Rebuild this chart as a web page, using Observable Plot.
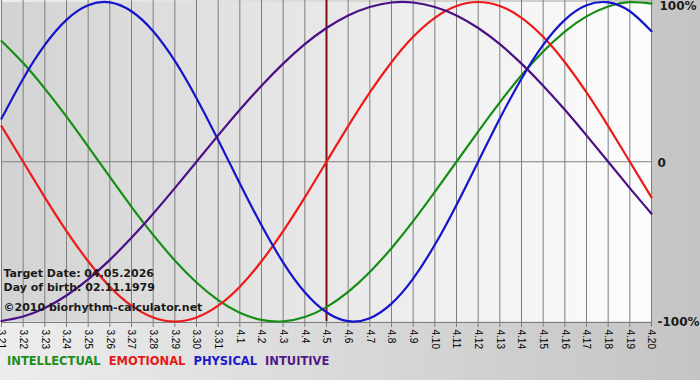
<!DOCTYPE html>
<html><head><meta charset="utf-8">
<script src="https://cdn.jsdelivr.net/npm/d3@7"></script>
<script src="https://cdn.jsdelivr.net/npm/@observablehq/plot@0.6"></script>
<style>
html,body{margin:0;padding:0;}
body{width:700px;height:380px;overflow:hidden;background:linear-gradient(to right,#ededed,#c4c4c4);font-family:"DejaVu Sans",Verdana,sans-serif;}
#chart svg{display:block;}
#legend{height:30px;box-sizing:border-box;padding-top:4px;padding-left:7px;font-weight:bold;font-size:11.5px;white-space:nowrap;}
#legend span{margin-right:8px;}
</style></head><body>
<div id="chart"></div>
<div id="legend"></div>
<script>
// day labels (month.day)
const dayLabels = ["3.21","3.22","3.23","3.24","3.25","3.26","3.27","3.28","3.29","3.30","3.31",
  "4.1","4.2","4.3","4.4","4.5","4.6","4.7","4.8","4.9","4.10","4.11","4.12","4.13","4.14","4.15",
  "4.16","4.17","4.18","4.19","4.20"];
const targetDay = "4.5";
// series values in percent, one per day
const intellectual = [75.6,61.8,45.8,28.2,9.5,-9.5,-28.2,-45.8,-61.8,-75.6,-86.6,-94.5,-99.0,-99.9,-97.2,-91.0,-81.5,-69.0,-54.1,-37.2,-18.9,0,18.9,37.2,54.1,69.0,81.5,91.0,97.2,99.9,99.0];
const emotional = [22.3,0,-22.3,-43.4,-62.3,-78.2,-90.1,-97.5,-100,-97.5,-90.1,-78.2,-62.3,-43.4,-22.3,0,22.3,43.4,62.3,78.2,90.1,97.5,100,97.5,90.1,78.2,62.3,43.4,22.3,0,-22.3];
const physical = [27.0,52.0,73.1,88.8,97.9,99.8,94.2,81.7,63.1,39.8,13.6,-13.6,-39.8,-63.1,-81.7,-94.2,-99.8,-97.9,-88.8,-73.1,-52.0,-27.0,0,27.0,52.0,73.1,88.8,97.9,99.8,94.2,81.7];
const intuitive = [-99.7,-96.9,-91.6,-83.7,-73.6,-61.4,-47.6,-32.5,-16.5,0,16.5,32.5,47.6,61.4,73.6,83.7,91.6,96.9,99.7,99.7,96.9,91.6,83.7,73.6,61.4,47.6,32.5,16.5,0,-16.5,-32.5];
const seriesNames = ["INTELLECTUAL","EMOTIONAL","PHYSICAL","INTUITIVE"];
const yTicks = [100, 0, -100];
const yTickLabels = ["100%", "0", "-100%"];
const infoLines = ["Target Date: 04.05.2026", "Day of birth: 02.11.1979"];
const copyright = "©2010 biorhythm-calculator.net";

const lineColors = {INTELLECTUAL:"#168e16", EMOTIONAL:"#ee1a1a", PHYSICAL:"#1414cc", INTUITIVE:"#4b0f86"};
const legendColors = {INTELLECTUAL:"#1c8c1c", EMOTIONAL:"#e41b1b", PHYSICAL:"#1a1ac8", INTUITIVE:"#56178a"};

const valuesBy = {INTELLECTUAL: intellectual, EMOTIONAL: emotional, PHYSICAL: physical, INTUITIVE: intuitive};
const rows = [];
for (const name of seriesNames) valuesBy[name].forEach((v, i) => rows.push({series: name, i, v}));
const dayIdx = d3.range(dayLabels.length);
const targetIdx = dayLabels.indexOf(targetDay);

const grid = "#7e7e7e";
const chart = Plot.plot({
  width: 700, height: 350,
  marginLeft: 1, marginRight: 49, marginTop: 1.5, marginBottom: 29,
  style: {background: "transparent", fontFamily: "'DejaVu Sans', Verdana, sans-serif", overflow: "visible"},
  x: {domain: [0, dayLabels.length - 1], axis: null},
  y: {domain: [-100, 100], axis: null},
  marks: [
    Plot.frame({fill: "url(#plotbg)", stroke: "none"}),
    Plot.ruleX(dayIdx, {x: d => d, stroke: grid, strokeWidth: 1, insetTop: -2, insetBottom: -1}),
    Plot.ruleY([0], {stroke: grid}),
    Plot.ruleY([-100], {stroke: grid, dy: 1}),
    Plot.axisX({ticks: dayIdx, tickFormat: i => dayLabels[i], tickRotate: 90, tickSize: 5, tickPadding: 2,
      label: null, fontSize: 10, fontFamily: "'Liberation Sans', Arial, sans-serif",
      stroke: grid, color: "#000", dy: 1}),
    Plot.ruleX([targetIdx], {stroke: "#7b1010", strokeWidth: 2, insetTop: -2}),
    ...seriesNames.map(name => Plot.line(rows.filter(r => r.series === name),
      {x: "i", y: "v", stroke: lineColors[name], strokeWidth: 2.2, curve: "natural"})),
    Plot.text([infoLines.join("\n")], {frameAnchor: "bottom-left", textAnchor: "start", lineAnchor: "bottom",
      dx: 2, dy: -31, lineHeight: 1.27, fontSize: 11, fontWeight: "bold", fill: "#1a1a1a"}),
    Plot.text([copyright], {frameAnchor: "bottom-left", textAnchor: "start", lineAnchor: "bottom",
      dx: 2, dy: -11, fontSize: 11, fontWeight: "bold", fill: "#1a1a1a"}),
    Plot.text([yTicks[0]], {y: d => d, text: () => yTickLabels[0], frameAnchor: "right", textAnchor: "start", lineAnchor: "top",
      dx: 8, dy: -1, fontSize: 12, fontWeight: "bold", fill: "#1a1a1a"}),
    Plot.text(yTicks.slice(1), {y: d => d, text: (d, k) => yTickLabels[k + 1], frameAnchor: "right", textAnchor: "start",
      lineAnchor: "middle", dx: 6, dy: 1, fontSize: 12, fontWeight: "bold", fill: "#1a1a1a"})
  ]
});
const ns = "http://www.w3.org/2000/svg";
const defs = document.createElementNS(ns, "defs");
defs.innerHTML = '<linearGradient id="plotbg" x1="0" x2="1" y1="0" y2="0"><stop offset="0" stop-color="#d3d3d3"/><stop offset="1" stop-color="#fdfdfd"/></linearGradient>';
chart.insertBefore(defs, chart.firstChild);
document.getElementById("chart").appendChild(chart);

const legend = document.getElementById("legend");
for (const name of seriesNames) {
  const s = document.createElement("span");
  s.textContent = name;
  s.style.color = legendColors[name];
  legend.appendChild(s);
}
</script>
</body></html>
